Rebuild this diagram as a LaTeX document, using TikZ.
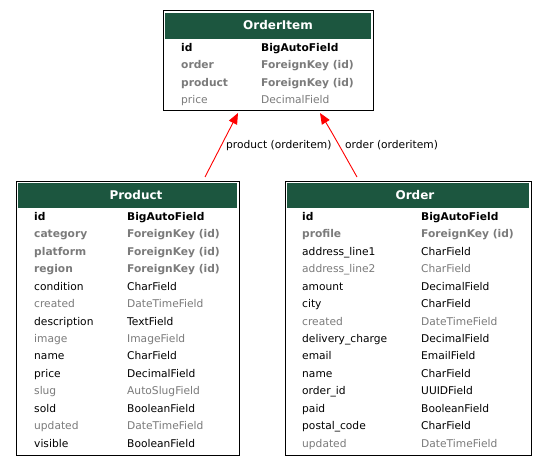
\documentclass[tikz,border=0pt]{standalone}
\usepackage{fontspec}
\setmainfont{DejaVu Sans}
\usetikzlibrary{arrows.meta}
\definecolor{hdrgreen}{RGB}{28,86,63}
\definecolor{fkgrey}{RGB}{123,123,123}
\definecolor{relred}{RGB}{255,0,0}
\newcommand\fsz{\fontsize{10.67}{12}\selectfont}
\tikzset{
  box/.style={draw=black, line width=1.1pt, fill=white, inner sep=0pt, anchor=north west},
  hdr/.style={fill=hdrgreen, inner sep=0pt, anchor=north west},
  title/.style={text=white, font=\fontsize{12}{14}\selectfont\bfseries, inner sep=0pt},
  fplain/.style={text=black, font=\fsz, inner sep=0pt, anchor=base west},
  fbold/.style={text=black, font=\fsz\bfseries, inner sep=0pt, anchor=base west},
  fgrey/.style={text=fkgrey, font=\fsz, inner sep=0pt, anchor=base west},
  fbgrey/.style={text=fkgrey, font=\fsz\bfseries, inner sep=0pt, anchor=base west},
  rel/.style={draw=relred, line width=0.9pt, -{Triangle[length=11pt,width=9pt]}},
  rlabel/.style={font=\fsz, inner sep=0pt, anchor=base west},
}
% #1 prefix, #2 index, #3 style, #4 name, #5 type ; uses \nx \tx \ry
\newcommand\fieldrow[5]{%
  \node[#3] (#1#2n) at (\nx, {\ry+(#2-1)*17.45+4.3}) {#4};
  \node[#3] (#1#2t) at (\tx, {\ry+(#2-1)*17.45+4.3}) {#5};
}
\begin{document}
\begin{tikzpicture}[x=1pt, y=-1pt]
\useasboundingbox[fill=white] (0,0) rectangle (549,465);

% ---------- OrderItem ----------
\node[box, minimum width=210pt, minimum height=100pt] (oi) at (163,10) {};
\node[hdr, minimum width=206pt, minimum height=26pt] (oih) at (165,13) {};
\node[title] (oititle) at (278,25.5) {OrderItem};
\def\nx{181}\def\tx{261}\def\ry{47}
\fieldrow{oi}{1}{fbold}{id}{BigAutoField}
\fieldrow{oi}{2}{fbgrey}{order}{ForeignKey (id)}
\fieldrow{oi}{3}{fbgrey}{product}{ForeignKey (id)}
\fieldrow{oi}{4}{fgrey}{price}{DecimalField}

% ---------- Product ----------
\node[box, minimum width=223pt, minimum height=274pt] (pr) at (16,181) {};
\node[hdr, minimum width=219pt, minimum height=25pt] (prh) at (18,183) {};
\node[title] (prtitle) at (136,195) {Product};
\def\nx{34}\def\tx{127}\def\ry{216}
\fieldrow{pr}{1}{fbold}{id}{BigAutoField}
\fieldrow{pr}{2}{fbgrey}{category}{ForeignKey (id)}
\fieldrow{pr}{3}{fbgrey}{platform}{ForeignKey (id)}
\fieldrow{pr}{4}{fbgrey}{region}{ForeignKey (id)}
\fieldrow{pr}{5}{fplain}{condition}{CharField}
\fieldrow{pr}{6}{fgrey}{created}{DateTimeField}
\fieldrow{pr}{7}{fplain}{description}{TextField}
\fieldrow{pr}{8}{fgrey}{image}{ImageField}
\fieldrow{pr}{9}{fplain}{name}{CharField}
\fieldrow{pr}{10}{fplain}{price}{DecimalField}
\fieldrow{pr}{11}{fgrey}{slug}{AutoSlugField}
\fieldrow{pr}{12}{fplain}{sold}{BooleanField}
\fieldrow{pr}{13}{fgrey}{updated}{DateTimeField}
\fieldrow{pr}{14}{fplain}{visible}{BooleanField}

% ---------- Order ----------
\node[box, minimum width=246pt, minimum height=274pt] (or) at (285,181) {};
\node[hdr, minimum width=242pt, minimum height=25pt] (orh) at (287,183) {};
\node[title] (ortitle) at (415,195) {Order};
\def\nx{302}\def\tx{421}\def\ry{216}
\fieldrow{or}{1}{fbold}{id}{BigAutoField}
\fieldrow{or}{2}{fbgrey}{profile}{ForeignKey (id)}
\fieldrow{or}{3}{fplain}{address\_line1}{CharField}
\fieldrow{or}{4}{fgrey}{address\_line2}{CharField}
\fieldrow{or}{5}{fplain}{amount}{DecimalField}
\fieldrow{or}{6}{fplain}{city}{CharField}
\fieldrow{or}{7}{fgrey}{created}{DateTimeField}
\fieldrow{or}{8}{fplain}{delivery\_charge}{DecimalField}
\fieldrow{or}{9}{fplain}{email}{EmailField}
\fieldrow{or}{10}{fplain}{name}{CharField}
\fieldrow{or}{11}{fplain}{order\_id}{UUIDField}
\fieldrow{or}{12}{fplain}{paid}{BooleanField}
\fieldrow{or}{13}{fplain}{postal\_code}{CharField}
\fieldrow{or}{14}{fgrey}{updated}{DateTimeField}

% ---------- relations ----------
\coordinate (prout) at (205,177);
\coordinate (oiinp) at (238,113);
\coordinate (orout) at (357,177);
\coordinate (oiino) at (320,113);
\draw[rel] (prout) -- (oiinp);
\draw[rel] (orout) .. controls (349,163) and (333,134) .. (oiino);
\node[rlabel] (lblp) at (226,148.7) {product (orderitem)};
\node[rlabel] (lblo) at (345,148.7) {order (orderitem)};
\end{tikzpicture}
\end{document}
